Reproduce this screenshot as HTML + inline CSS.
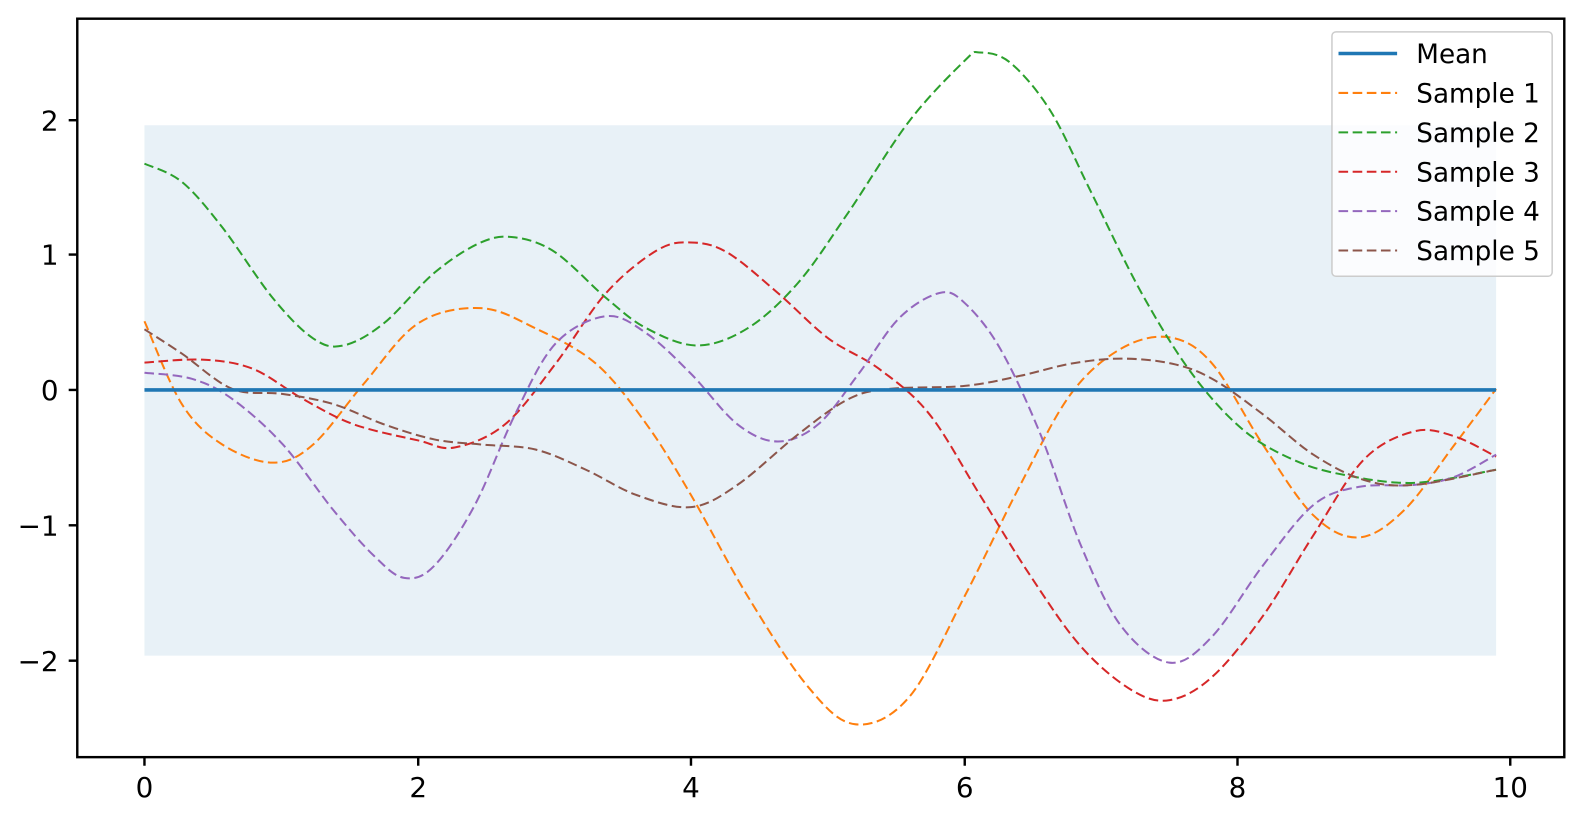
<!DOCTYPE html>
<html><head><meta charset="utf-8"><style>
html,body{margin:0;padding:0;background:#fff}
svg{display:block;font-family:"DejaVu Sans","Liberation Sans",sans-serif}
</style></head><body>
<svg id="s" width="1584" height="822" xmlns="http://www.w3.org/2000/svg">
<g transform="scale(1.0102)">
<rect x="143" y="124" width="1338" height="525" fill="#1f77b4" fill-opacity="0.1"/>
<g id="curves" fill="none" stroke-width="2" stroke-dasharray="9.5,4.5"></g>
<line x1="143" y1="386" x2="1481" y2="386" stroke="#1f77b4" stroke-width="3.5"/>
<rect x="76.5" y="18.5" width="1472" height="731" fill="none" stroke="#000" stroke-width="2.4"/>
<g stroke="#000" stroke-width="2.4">
<line x1="143" y1="750" x2="143" y2="758"/><line x1="414" y1="750" x2="414" y2="758"/><line x1="684" y1="750" x2="684" y2="758"/><line x1="955" y1="750" x2="955" y2="758"/><line x1="1225" y1="750" x2="1225" y2="758"/><line x1="1495" y1="750" x2="1495" y2="758"/>
<line x1="68" y1="119" x2="76" y2="119"/><line x1="68" y1="252" x2="76" y2="252"/><line x1="68" y1="386" x2="76" y2="386"/><line x1="68" y1="520" x2="76" y2="520"/><line x1="68" y1="654" x2="76" y2="654"/>
</g>
<g font-size="27.5" fill="#000" text-anchor="middle">
<text x="143" y="789">0</text><text x="414" y="789">2</text><text x="684" y="789">4</text><text x="955" y="789">6</text><text x="1225" y="789">8</text><text x="1495" y="789">10</text>
</g>
<g font-size="27.5" fill="#000" text-anchor="end">
<text x="58" y="129">2</text><text x="58" y="262">1</text><text x="58" y="396">0</text><text x="58" y="530">−1</text><text x="58" y="664">−2</text>
</g>
<rect x="1318.5" y="31.5" width="218" height="242" rx="4" fill="#fff" fill-opacity="0.8" stroke="#ccc" stroke-width="1.5"/>
<g stroke-width="2">
<line x1="1325" y1="53" x2="1383" y2="53" stroke="#1f77b4" stroke-width="3.5"/>
<line x1="1325" y1="92" x2="1383" y2="92" stroke="#ff7f0e" stroke-dasharray="9.5,4.5"/>
<line x1="1325" y1="131" x2="1383" y2="131" stroke="#2ca02c" stroke-dasharray="9.5,4.5"/>
<line x1="1325" y1="170" x2="1383" y2="170" stroke="#d62728" stroke-dasharray="9.5,4.5"/>
<line x1="1325" y1="209" x2="1383" y2="209" stroke="#9467bd" stroke-dasharray="9.5,4.5"/>
<line x1="1325" y1="248" x2="1383" y2="248" stroke="#8c564b" stroke-dasharray="9.5,4.5"/>
</g>
<g font-size="26" fill="#000">
<text x="1402" y="62.5">Mean</text><text x="1402" y="101.5">Sample 1</text><text x="1402" y="140.5">Sample 2</text><text x="1402" y="179.5">Sample 3</text><text x="1402" y="218.5">Sample 4</text><text x="1402" y="257.5">Sample 5</text>
</g>
</g>
</svg>
<script>
var D=[
["#ff7f0e",[143,318,180,400,220,440,270,458,310,440,360,380,414,320,476,305,530,325,590,360,640,420,684,490,740,590,800,680,847,717,900,690,955,590,1010,480,1060,390,1110,345,1158,334,1200,360,1250,440,1300,510,1345,532,1390,505,1440,440,1481,385]],
["#2ca02c",[143,162,180,180,220,225,270,295,310,335,340,342,380,320,430,270,476,240,510,235,550,250,600,295,640,325,690,342,740,325,790,280,840,210,900,120,955,60,970,52,1000,62,1040,110,1080,190,1130,290,1180,370,1230,425,1280,455,1330,470,1400,478,1481,465]],
["#d62728",[143,359,200,356,250,365,300,395,350,420,414,436,450,443,500,420,550,360,600,290,650,248,684,240,720,250,770,290,820,335,870,365,920,410,970,490,1020,570,1070,640,1120,683,1158,693,1200,670,1250,610,1300,530,1350,455,1400,427,1440,432,1481,452]],
["#9467bd",[143,369,190,375,230,395,280,440,330,505,370,550,400,572,430,560,470,500,510,410,550,340,600,313,640,330,684,370,730,420,770,437,810,420,850,370,890,315,930,290,955,300,990,345,1030,430,1070,540,1110,620,1158,656,1200,630,1250,560,1300,500,1345,482,1400,480,1440,472,1481,450]],
["#8c564b",[143,326,180,350,230,385,280,390,330,400,380,420,430,435,476,440,530,445,580,465,630,490,684,502,730,480,790,430,840,395,880,385,955,382,1010,372,1060,360,1110,355,1160,360,1200,375,1250,410,1300,450,1350,475,1400,480,1481,465]]];
var g=document.getElementById("curves");
D.forEach(function(d){var a=d[1],p=[];for(var i=0;i<a.length;i+=2)p.push([a[i],a[i+1]]);
var s="M"+p[0][0]+","+p[0][1];
for(var i=0;i<p.length-1;i++){var p0=p[Math.max(0,i-1)],p1=p[i],p2=p[i+1],p3=p[Math.min(p.length-1,i+2)];
s+=" C"+(p1[0]+(p2[0]-p0[0])/6)+","+(p1[1]+(p2[1]-p0[1])/6)+" "+(p2[0]-(p3[0]-p1[0])/6)+","+(p2[1]-(p3[1]-p1[1])/6)+" "+p2[0]+","+p2[1];}
var e=document.createElementNS("http://www.w3.org/2000/svg","path");e.setAttribute("d",s);e.setAttribute("stroke",d[0]);g.appendChild(e);});
</script>
</body></html>
